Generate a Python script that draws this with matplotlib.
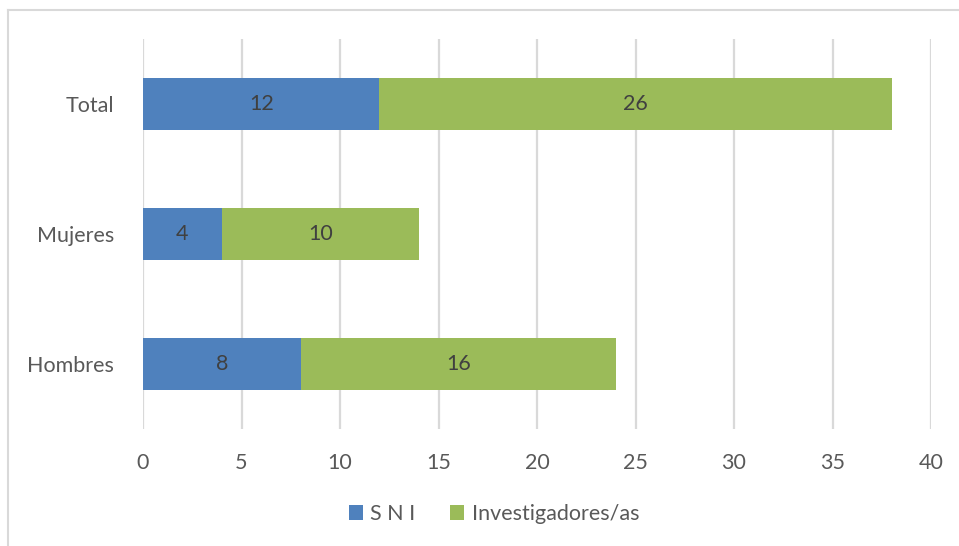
import matplotlib
matplotlib.use("Agg")
import matplotlib.pyplot as plt
from matplotlib.lines import Line2D
from matplotlib.patches import Patch

categories = ["Hombres", "Mujeres", "Total"]
sni = [8, 4, 12]
investigadores = [16, 10, 26]
series_names = ["S N I", "Investigadores/as"]
xticks = [0, 5, 10, 15, 20, 25, 30, 35, 40]

blue = "#4F81BD"
green = "#9BBB59"
txt = "#595959"

plt.rcParams['font.family'] = ['Lato', 'DejaVu Sans']

fig = plt.figure(figsize=(9.59, 5.46), dpi=100)
ax = fig.add_axes([143/959, 1-429/546, (931-143)/959, (429-39)/546])

y = list(range(len(categories)))
b1 = ax.barh(y, sni, height=0.4, color=blue, zorder=3)
b2 = ax.barh(y, investigadores, left=sni, height=0.4, color=green, zorder=3)
for bars in (b1, b2):
    ax.bar_label(bars, label_type='center', color="#404040", fontsize=15.5)

ax.set_xlim(0, 40)
ax.set_ylim(-0.5, 2.5)
ax.set_xticks(xticks)
ax.set_xticklabels([str(t) for t in xticks])
ax.set_yticks(y)
ax.set_yticklabels(categories)
ax.tick_params(axis='both', length=0, colors=txt, labelsize=15.5)
ax.tick_params(axis='x', pad=17)
ax.tick_params(axis='y', pad=21)
ax.xaxis.grid(True, color="#D9D9D9", linewidth=1.6, zorder=0)
for s in ax.spines.values():
    s.set_visible(False)

# outer chart border (top and left visible)
fig.add_artist(Line2D([7.5/959, 1], [1-10/546, 1-10/546], transform=fig.transFigure, color="#D9D9D9", linewidth=1.5))
fig.add_artist(Line2D([7.5/959, 7.5/959], [0, 1-10/546], transform=fig.transFigure, color="#D9D9D9", linewidth=1.5))

handles = [Patch(facecolor=blue), Patch(facecolor=green)]
fig.legend(handles, series_names, loc='center', bbox_to_anchor=(494/959, 1-514/546),
           ncol=2, frameon=False, fontsize=15.5, labelcolor=txt,
           handlelength=0.65, handleheight=0.65, handletextpad=0.35, columnspacing=1.6)

fig.savefig("out.png", dpi=100)
